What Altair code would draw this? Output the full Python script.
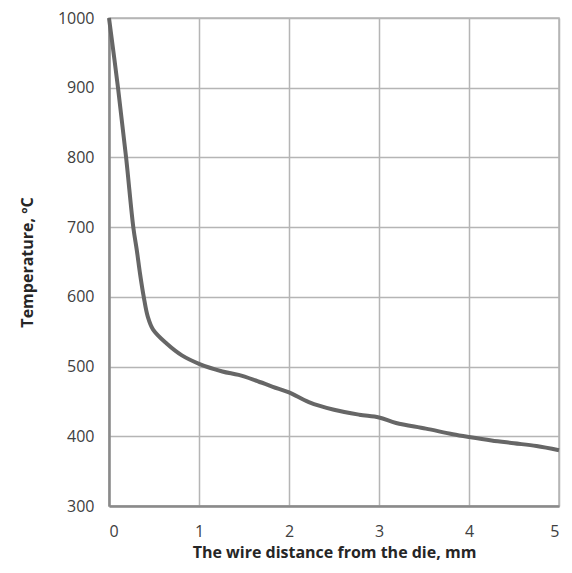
import altair as alt
import pandas as pd

distance = [0.0, 0.1, 0.19, 0.27, 0.31, 0.345, 0.386, 0.43, 0.49, 0.64, 0.81, 1.0, 1.26, 1.44, 1.63, 1.82,
            2.0, 2.22, 2.5, 2.78, 3.0, 3.19, 3.52, 3.82, 4.0, 4.25, 4.5, 4.75, 5.0]
temperature = [1000, 900, 800, 700, 666, 633, 600, 572, 553, 533, 516, 504, 493, 488, 480, 471,
               463, 449, 438, 431, 427, 419, 411, 403, 399, 394, 390, 386, 380]

x_ticks = [0, 0.5, 1, 1.5, 2, 2.5, 3, 3.5, 4, 4.5, 5]
y_ticks = [300, 400, 500, 600, 700, 800, 900, 1000]

df = pd.DataFrame({"d": distance, "t": temperature})

font = "Open Sans"

chart = alt.Chart(df).mark_line(
    color="#666666", strokeWidth=4, interpolate="catmull-rom"
).encode(
    x=alt.X("d:Q", scale=alt.Scale(domain=[0, 5], nice=False, zero=False),
            axis=alt.Axis(values=x_ticks, title="The wire distance from the die, mm",
                          labelExpr="datum.value % 1 == 0 ? datum.label : ''",
                          format="d")),
    y=alt.Y("t:Q", scale=alt.Scale(domain=[300, 1000], nice=False, zero=False),
            axis=alt.Axis(values=y_ticks, title="Temperature, ºC", format="d")),
).properties(
    width=450, height=488,
    autosize=alt.AutoSizeParams(type="none"),
    padding={"left": 101, "top": 10, "right": 5, "bottom": 59},
).configure_view(
    stroke="#b5b5b5", strokeWidth=1.5
).configure_axis(
    grid=True, gridColor="#b5b5b5", gridWidth=1.5,
    domain=True, domainColor="#8a8a8a", domainWidth=2.5,
    ticks=False,
    labelFont=font, labelFontSize=16, labelColor="#404040",
    titleFont=font, titleFontSize=16, titleFontWeight="bold", titleColor="#262626",
).configure_axisX(
    labelPadding=17, titlePadding=5
).configure_axisY(
    labelPadding=15, titlePadding=22
)

chart.save("out.html", embed_options={"renderer": "svg", "actions": False})
